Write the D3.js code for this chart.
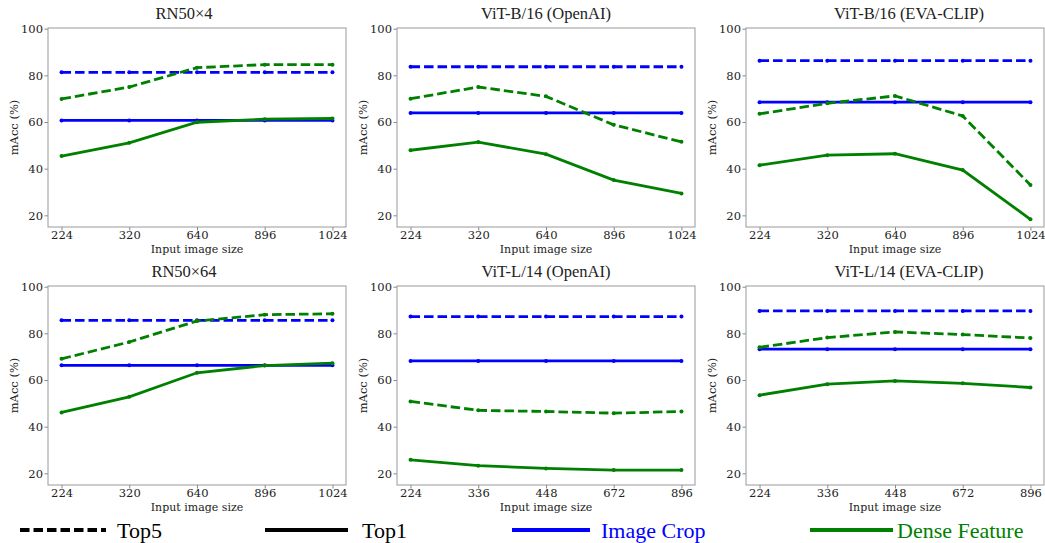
<!DOCTYPE html>
<html>
<head>
<meta charset="utf-8">
<script src="https://cdn.jsdelivr.net/npm/d3@7"></script>
<style>
  body { margin: 0; background: #fff; }
  svg text { fill: #222; }
</style>
</head>
<body>
<script>
// input sizes on the x axis
var sizesRN = ["224", "320", "640", "896", "1024"];
var sizesL14 = ["224", "336", "448", "672", "896"];
var yTicks = [20, 40, 60, 80, 100];

var titles = ["RN50\u00d74", "ViT-B/16 (OpenAI)", "ViT-B/16 (EVA-CLIP)",
              "RN50\u00d764", "ViT-L/14 (OpenAI)", "ViT-L/14 (EVA-CLIP)"];
var panelSizes = [sizesRN, sizesRN, sizesRN, sizesRN, sizesL14, sizesL14];

// Image Crop (blue)
var cropTop5 = [
  [81.3, 81.3, 81.3, 81.3, 81.3],
  [83.7, 83.7, 83.7, 83.7, 83.7],
  [86.3, 86.3, 86.3, 86.3, 86.3],
  [85.6, 85.6, 85.6, 85.6, 85.6],
  [87.2, 87.2, 87.2, 87.2, 87.2],
  [89.6, 89.6, 89.6, 89.6, 89.6]
];
var cropTop1 = [
  [60.7, 60.7, 60.7, 60.7, 60.7],
  [63.9, 63.9, 63.9, 63.9, 63.9],
  [68.5, 68.5, 68.5, 68.5, 68.5],
  [66.3, 66.3, 66.3, 66.3, 66.3],
  [68.2, 68.2, 68.2, 68.2, 68.2],
  [73.2, 73.2, 73.2, 73.2, 73.2]
];
// Dense Feature (green)
var denseTop5 = [
  [69.9, 75.0, 83.3, 84.6, 84.6],
  [70.0, 75.0, 71.0, 58.8, 51.5],
  [63.5, 68.0, 71.2, 62.6, 33.0],
  [69.1, 76.3, 85.3, 88.0, 88.4],
  [50.8, 47.0, 46.5, 45.8, 46.5],
  [74.0, 78.2, 80.6, 79.5, 78.0]
];
var denseTop1 = [
  [45.4, 51.1, 59.9, 61.2, 61.5],
  [47.9, 51.4, 46.2, 35.1, 29.4],
  [41.5, 45.8, 46.4, 39.4, 18.3],
  [46.1, 52.8, 63.1, 66.2, 67.2],
  [25.8, 23.3, 22.1, 21.4, 21.4],
  [53.5, 58.2, 59.6, 58.6, 56.8]
];

var blue = "#0000ff";
var green = "#008000";
var dash = "9.5,4";

var W = 1045, H = 543;
var svg = d3.select("body").append("svg").attr("width", W).attr("height", H);

var lefts = [48, 397, 746];
var tops = [28, 286];
var titleShift = [-13, 0, 14];
var pw = 298, ph = 199;

var y = d3.scaleLinear().domain([15, 100.3]).range([ph, 0]);

titles.forEach(function (title, i) {
  var col = i % 3, row = Math.floor(i / 3);
  var g = svg.append("g").attr("transform", "translate(" + lefts[col] + "," + tops[row] + ")");
  var x = d3.scalePoint().domain(panelSizes[i]).range([0, pw]).padding(0.2);

  var yAxis = g.append("g").call(d3.axisLeft(y).tickValues(yTicks).tickSize(3.5).tickPadding(1.5));
  var xAxis = g.append("g").attr("transform", "translate(0," + ph + ")")
    .call(d3.axisBottom(x).tickSize(3.5).tickPadding(0.5));
  [yAxis, xAxis].forEach(function (a) {
    a.select(".domain").remove();
    a.selectAll("line").attr("stroke", "#888");
    a.selectAll("text").style("font-family", "DejaVu Serif").style("font-size", "11.5px").attr("fill", "#222");
  });

  g.append("rect").attr("width", pw).attr("height", ph)
    .attr("fill", "none").attr("stroke", "#999").attr("stroke-width", 1);

  var series = [
    { v: cropTop5[i], c: blue, d: dash },
    { v: cropTop1[i], c: blue, d: null },
    { v: denseTop5[i], c: green, d: dash },
    { v: denseTop1[i], c: green, d: null }
  ];
  var line = d3.line()
    .x(function (d, k) { return x(panelSizes[i][k]); })
    .y(function (d) { return y(d); });

  series.forEach(function (s) {
    g.append("path").datum(s.v).attr("d", line)
      .attr("fill", "none").attr("stroke", s.c).attr("stroke-width", 2.8)
      .attr("stroke-dasharray", s.d);
    g.selectAll(null).data(s.v).enter().append("circle")
      .attr("cx", function (d, k) { return x(panelSizes[i][k]); })
      .attr("cy", function (d) { return y(d); })
      .attr("r", 2).attr("fill", s.c);
  });

  g.append("text").attr("x", pw / 2 + titleShift[col]).attr("y", -9)
    .attr("text-anchor", "middle")
    .style("font-family", "Liberation Serif").style("font-size", "16.5px")
    .text(title);
  g.append("text").attr("x", pw / 2).attr("y", ph + 26)
    .attr("text-anchor", "middle")
    .style("font-family", "DejaVu Serif").style("font-size", "11px")
    .text("Input image size");
  g.append("text")
    .attr("transform", "translate(-30," + (ph / 2) + ") rotate(-90)")
    .attr("text-anchor", "middle")
    .style("font-family", "DejaVu Serif").style("font-size", "11.5px")
    .text("mAcc (%)");
});

// legend
var legend = [
  { label: "Top5", c: "#000", d: dash, tc: "#000", x1: 20, x2: 106, tx: 117 },
  { label: "Top1", c: "#000", d: null, tc: "#000", x1: 265, x2: 348, tx: 362 },
  { label: "Image Crop", c: blue, d: null, tc: blue, x1: 512, x2: 590, tx: 601 },
  { label: "Dense Feature", c: green, d: null, tc: green, x1: 810, x2: 893, tx: 897 }
];
var lg = svg.append("g");
legend.forEach(function (l) {
  lg.append("line").attr("x1", l.x1).attr("x2", l.x2).attr("y1", 530).attr("y2", 530)
    .attr("stroke", l.c).attr("stroke-width", 4).attr("stroke-dasharray", l.d);
  lg.append("text").attr("x", l.tx).attr("y", 538)
    .style("font-family", "Liberation Serif").style("font-size", "22px")
    .style("fill", l.tc).text(l.label);
});
</script>
</body>
</html>
